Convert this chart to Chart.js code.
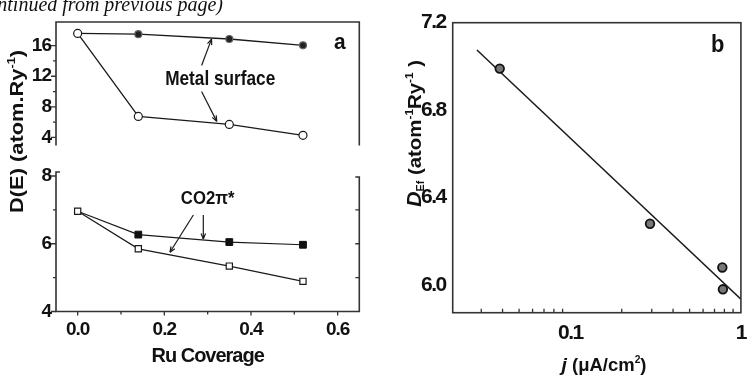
<!DOCTYPE html>
<html><head><meta charset="utf-8">
<script src="https://cdn.jsdelivr.net/npm/chart.js@4"></script>
<style>
html,body{margin:0;padding:0;background:#fff;}
#wrap{position:relative;width:754px;height:377px;overflow:hidden;background:#fff;}
canvas{position:absolute;}
</style></head><body>
<div id="wrap">
<canvas id="aLow" width="380" height="377" style="left:0;top:0;z-index:1"></canvas>
<canvas id="aUp" width="380" height="162" style="left:0;top:0;z-index:2"></canvas>
<canvas id="b" width="374" height="377" style="left:380px;top:0;z-index:1"></canvas>
</div>
<script>
// ---------------- data ----------------
const coverage    = [0, 0.14, 0.35, 0.52];
const metalOpen   = [17.6, 6.74, 5.7, 4.27];
const metalFilled = [17.6, 17.5, 16.87, 16.04];
const co2Open     = [6.96, 5.85, 5.34, 4.89];
const co2Filled   = [6.96, 6.27, 6.05, 5.97];

const currentJ = [0.0385, 0.293, 0.778, 0.784];
const dosEf    = [6.99, 6.28, 6.08, 5.98];
const fitJ     = [0.0283, 1.0];
const fitD     = [7.075, 5.935];

const upperTicks    = [4, 8, 12, 16];
const upperMinor    = [6, 10, 14];
const lowerTicks    = [4, 6, 8];
const lowerMinor    = [5, 7];
const coverageTicks = [0, 0.2, 0.4, 0.6];
const coverageMinor = [0.1, 0.3, 0.5];
const dosTicks      = [6.0, 6.4, 6.8, 7.2];
const jTicks        = [0.1, 1];
const jMinor        = [0.03, 0.04, 0.05, 0.06, 0.07, 0.08, 0.09, 0.2, 0.3, 0.4, 0.5, 0.6, 0.7, 0.8, 0.9];

// annotation anchors (data coordinates)
const metalText   = {x: 0.329, y: 11.6};
const metalArrows = [[0.286, 13.4, 0.309, 16.85], [0.286, 10.0, 0.321, 6.1]];
const co2Text     = {x: 0.30, y: 7.32};
const co2Arrows   = [[0.267, 6.85, 0.213, 5.75], [0.29, 6.85, 0.29, 6.14]];
const panelA      = {x: 0.605, y: 16.36};
const panelB      = {x: 0.73, y: 7.093};

// ---------------- helpers ----------------
const FONT = '"Liberation Sans", Arial, Helvetica, sans-serif';
Chart.defaults.font.family = FONT;
Chart.defaults.color = '#111';
const INK = '#1a1a1a', AXIS = '#333';
const pts = (xs, ys) => xs.map((x, i) => ({x, y: ys[i]}));

function spacing(sp){
  return {id:'spacing', beforeLayout(c){c.ctx.letterSpacing = sp;}, beforeDraw(c){c.ctx.letterSpacing = sp;}};
}
function seg(ctx,x1,y1,x2,y2){ctx.beginPath();ctx.moveTo(x1,y1);ctx.lineTo(x2,y2);ctx.stroke();}
function arrow(ctx,x1,y1,x2,y2){
  seg(ctx,x1,y1,x2,y2);
  const a = Math.atan2(y2-y1,x2-x1), L = 6, w = 0.38;
  ctx.beginPath();
  ctx.moveTo(x2,y2); ctx.lineTo(x2-L*Math.cos(a-w), y2-L*Math.sin(a-w));
  ctx.moveTo(x2,y2); ctx.lineTo(x2-L*Math.cos(a+w), y2-L*Math.sin(a+w));
  ctx.stroke();
}
function yTicks(ctx, sc, x, vals, len){
  ctx.beginPath();
  vals.forEach(v => { const y = sc.getPixelForValue(v); ctx.moveTo(x, y); ctx.lineTo(x+len, y); });
  ctx.stroke();
}
function xTicks(ctx, sc, y, vals, len){
  ctx.beginPath();
  vals.forEach(v => { const x = sc.getPixelForValue(v); ctx.moveTo(x, y); ctx.lineTo(x, y+len); });
  ctx.stroke();
}
function sText(ctx, str, x, y, font, sx, align){
  ctx.save(); ctx.letterSpacing = '0px';
  ctx.translate(x, y); ctx.scale(sx, 1);
  ctx.font = font; ctx.fillStyle = '#111'; ctx.textAlign = align || 'center'; ctx.textBaseline = 'middle';
  ctx.fillText(str, 0, 0); ctx.restore();
}
// rich text along a (possibly rotated) baseline, fitted to a given length
function rich(ctx, parts, cx, cy, length, rotated){
  ctx.save(); ctx.letterSpacing = '0px'; ctx.fillStyle = '#111';
  let total = 0;
  parts.forEach(p => { ctx.font = p.f; p.w = ctx.measureText(p.t).width; total += p.w; });
  ctx.translate(cx, cy);
  if (rotated) ctx.rotate(-Math.PI/2);
  ctx.scale(length/total, 1);
  ctx.textAlign = 'left'; ctx.textBaseline = 'alphabetic';
  let x = -total/2;
  parts.forEach(p => { ctx.font = p.f; ctx.fillText(p.t, x, p.dy || 0); x += p.w; });
  ctx.restore();
}

const tickFontA = {family: FONT, size: 19, weight: 'bold'};
const tickFontB = {family: FONT, size: 21, weight: 'bold'};
const base = {responsive:false, animation:false, devicePixelRatio:1, events:[],
  plugins:{legend:{display:false}, tooltip:{enabled:false}}};
const noGrid = {display:false, drawTicks:false};

// ---------------- panel a, upper ----------------
new Chart(document.getElementById('aUp'), {
  type:'line',
  data:{datasets:[
    {data: pts(coverage, metalOpen), borderColor: INK, borderWidth: 1.3, tension: 0,
     pointStyle:'circle', pointRadius: 4, pointBackgroundColor:'#fff', pointBorderColor: INK, pointBorderWidth: 1.2},
    {data: pts(coverage, metalFilled), borderColor: INK, borderWidth: 1.3, tension: 0,
     pointStyle:'circle', pointRadius: [0, 3.5, 3.5, 3.5], pointBackgroundColor:'#222', pointBorderColor:'#666', pointBorderWidth: 1.2}
  ]},
  options:{...base,
    layout:{padding:{left:0, right:20.7, top:22, bottom:4}},
    scales:{
      x:{type:'linear', display:false, min:-0.05, max:0.65},
      y:{type:'linear', min:2.93, max:19.09,
         afterBuildTicks: s => { s.ticks = upperTicks.map(v => ({value:v})); },
         afterFit: s => { s.width = 56; },
         ticks:{font: tickFontA, color:'#111', padding: 5, callback: v => String(v)},
         grid: noGrid, border:{display:false}}
    }
  },
  plugins:[spacing('-1px'), {id:'decorUp', afterDraw(c){
    const ctx = c.ctx, ca = c.chartArea, X = c.scales.x, Y = c.scales.y;
    ctx.save();
    ctx.strokeStyle = AXIS; ctx.lineWidth = 1.6;
    ctx.beginPath(); ctx.moveTo(ca.left, ca.bottom); ctx.lineTo(ca.left, ca.top);
    ctx.lineTo(ca.right, ca.top); ctx.lineTo(ca.right, ca.bottom); ctx.stroke();
    ctx.lineWidth = 1.3;
    yTicks(ctx, Y, ca.left, upperTicks, -5);
    yTicks(ctx, Y, ca.left, upperMinor, -3);
    ctx.strokeStyle = INK; ctx.lineWidth = 1.2;
    metalArrows.forEach(a => arrow(ctx, X.getPixelForValue(a[0]), Y.getPixelForValue(a[1]), X.getPixelForValue(a[2]), Y.getPixelForValue(a[3])));
    sText(ctx, 'Metal surface', X.getPixelForValue(metalText.x), Y.getPixelForValue(metalText.y), 'bold 21px ' + FONT, 0.82);
    sText(ctx, 'a', X.getPixelForValue(panelA.x), Y.getPixelForValue(panelA.y), 'bold 22px ' + FONT, 0.95);
    // running header cut off at the page top
    ctx.save(); ctx.letterSpacing = '0px';
    ctx.font = 'italic 20px "Liberation Serif", "Times New Roman", serif';
    ctx.fillStyle = '#111'; ctx.textAlign = 'right'; ctx.textBaseline = 'alphabetic';
    ctx.fillText('(continued from previous page)', 223, 10.5);
    ctx.restore();
    ctx.restore();
  }}]
});

// ---------------- panel a, lower ----------------
new Chart(document.getElementById('aLow'), {
  type:'line',
  data:{datasets:[
    {data: pts(coverage, co2Open), borderColor: INK, borderWidth: 1.2, tension: 0,
     pointStyle:'rect', pointRadius: 4.4, pointBackgroundColor:'#fff', pointBorderColor: INK, pointBorderWidth: 1.2},
    {data: pts(coverage, co2Filled), borderColor: INK, borderWidth: 1.2, tension: 0,
     pointStyle:'rect', pointRadius: [0, 4.8, 4.8, 4.8], pointBackgroundColor:'#111', pointBorderColor:'#111', pointBorderWidth: 1}
  ]},
  options:{...base,
    layout:{padding:{left:0, right:20.7, top:176, bottom:8.9}},
    scales:{
      x:{type:'linear', min:-0.05, max:0.65,
         afterBuildTicks: s => { s.ticks = coverageTicks.map(v => ({value:v})); },
         afterFit: s => { s.height = 56.6; },
         ticks:{font: tickFontA, color:'#111', padding: 7, maxRotation:0, autoSkip:false, callback: v => Number(v).toFixed(1)},
         grid: noGrid, border:{display:false},
         title:{display:true, text:'Ru Coverage', color:'#111', padding:0, font:{family: FONT, size: 20, weight:'bold'}}},
      y:{type:'linear', min:4, max:8,
         afterBuildTicks: s => { s.ticks = lowerTicks.map(v => ({value:v})); },
         afterFit: s => { s.width = 56; },
         ticks:{font: tickFontA, color:'#111', padding: 5, callback: v => String(v)},
         grid: noGrid, border:{display:false}}
    }
  },
  plugins:[spacing('-1px'), {id:'decorLow', afterDraw(c){
    const ctx = c.ctx, ca = c.chartArea, X = c.scales.x, Y = c.scales.y;
    ctx.save();
    ctx.strokeStyle = AXIS; ctx.lineWidth = 1.6;
    ctx.beginPath();
    ctx.moveTo(ca.left + 4, ca.top - 4); ctx.lineTo(ca.left, ca.top - 4); ctx.lineTo(ca.left, ca.bottom);
    ctx.lineTo(ca.right, ca.bottom); ctx.lineTo(ca.right, ca.top + 1); ctx.lineTo(ca.right - 4, ca.top + 1);
    ctx.stroke();
    ctx.lineWidth = 1.3;
    yTicks(ctx, Y, ca.left, lowerTicks, -5);
    yTicks(ctx, Y, ca.left, lowerMinor, -3);
    yTicks(ctx, Y, ca.right, [5, 6, 7], -4);
    xTicks(ctx, X, ca.bottom, coverageTicks, 4);
    xTicks(ctx, X, ca.bottom, coverageMinor, 3);
    ctx.strokeStyle = INK; ctx.lineWidth = 1.2;
    co2Arrows.forEach(a => arrow(ctx, X.getPixelForValue(a[0]), Y.getPixelForValue(a[1]), X.getPixelForValue(a[2]), Y.getPixelForValue(a[3])));
    sText(ctx, 'CO2π*', X.getPixelForValue(co2Text.x), Y.getPixelForValue(co2Text.y), 'bold 19px ' + FONT, 0.88);
    // shared y-axis title of panel a
    rich(ctx, [
      {t:'D(E) (atom.Ry', f:'bold 19px ' + FONT},
      {t:'-1', f:'bold 11px ' + FONT, dy:-8},
      {t:')', f:'bold 19px ' + FONT}
    ], 23, 131.5, 163, true);
    ctx.restore();
  }}]
});

// ---------------- panel b ----------------
new Chart(document.getElementById('b'), {
  type:'line',
  data:{datasets:[
    {data: pts(currentJ, dosEf), showLine:false, pointStyle:'circle', pointRadius: 4.3,
     pointBackgroundColor:'#777', pointBorderColor:'#111', pointBorderWidth: 1.8},
    {data: pts(fitJ, fitD), borderColor:'#1a1a1a', borderWidth: 1.5, pointRadius: 0, tension: 0}
  ]},
  options:{...base,
    layout:{padding:{left:0, right:7.3, top:22.7, bottom:24.3}},
    scales:{
      x:{type:'logarithmic', min:0.0204, max:1,
         afterBuildTicks: s => { s.ticks = jTicks.map(v => ({value:v})); },
         afterFit: s => { s.height = 40; },
         ticks:{font: tickFontB, color:'#111', padding: 8, maxRotation:0, autoSkip:false, callback: v => String(v)},
         grid: noGrid, border:{display:false}},
      y:{type:'linear', min:5.873, max:7.2,
         afterBuildTicks: s => { s.ticks = dosTicks.map(v => ({value:v})); },
         afterFit: s => { s.width = 72.7; },
         ticks:{font: tickFontB, color:'#111', padding: 7, callback: v => Number(v).toFixed(1)},
         grid: noGrid, border:{display:false}}
    }
  },
  plugins:[spacing('-1.5px'), {id:'decorB', afterDraw(c){
    const ctx = c.ctx, ca = c.chartArea, X = c.scales.x, Y = c.scales.y;
    ctx.save();
    ctx.strokeStyle = AXIS; ctx.lineWidth = 1.6;
    ctx.strokeRect(ca.left, ca.top, ca.right - ca.left, ca.bottom - ca.top);
    ctx.lineWidth = 1.3;
    xTicks(ctx, X, ca.bottom, jMinor, -4);
    sText(ctx, 'b', X.getPixelForValue(panelB.x), Y.getPixelForValue(panelB.y), 'bold 23px ' + FONT, 0.95);
    rich(ctx, [
      {t:'D', f:'italic bold 20px ' + FONT},
      {t:'Ef', f:'bold 10px ' + FONT, dy:3},
      {t:' (atom', f:'bold 19px ' + FONT},
      {t:'-1', f:'bold 11px ' + FONT, dy:-8},
      {t:'Ry', f:'bold 19px ' + FONT},
      {t:'-1', f:'bold 11px ' + FONT, dy:-8},
      {t:' )', f:'bold 19px ' + FONT}
    ], 41, 133.5, 147, true);
    rich(ctx, [
      {t:'j', f:'italic bold 19px ' + FONT},
      {t:' (μA/cm', f:'bold 18px ' + FONT},
      {t:'2', f:'bold 10px ' + FONT, dy:-8},
      {t:')', f:'bold 18px ' + FONT}
    ], 224, 371, 85, false);
    ctx.restore();
  }}]
});
</script>
</body></html>
